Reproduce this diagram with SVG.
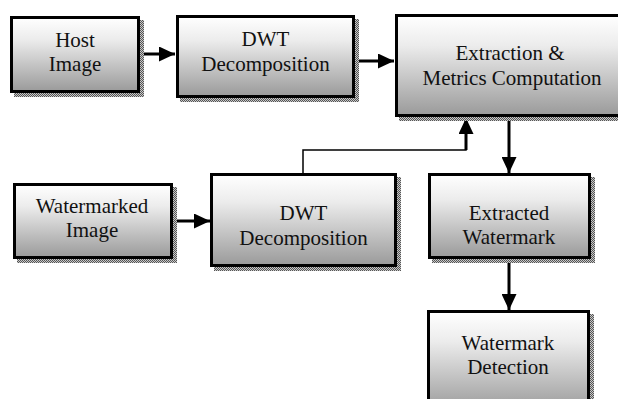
<svg xmlns="http://www.w3.org/2000/svg" width="618" height="399" viewBox="0 0 618 399">
<defs>
<linearGradient id="g" x1="0" y1="0" x2="0" y2="1">
<stop offset="0" stop-color="#ffffff"/>
<stop offset="0.3" stop-color="#ececec"/>
<stop offset="1" stop-color="#9a9a9a"/>
</linearGradient>
<pattern id="dots" width="2" height="2" patternUnits="userSpaceOnUse">
<rect width="2" height="2" fill="#c8c8c8"/>
<rect width="1" height="1" fill="#555"/>
<rect x="1" y="1" width="1" height="1" fill="#555"/>
</pattern>
<marker id="ah2" markerWidth="16" markerHeight="15" refX="16" refY="7.5" orient="auto" markerUnits="userSpaceOnUse">
<path d="M0,0 L16,7.5 L0,15 Z" fill="#000"/>
</marker>
</defs>
<style>
.sh{fill:url(#dots)}
.bx{fill:url(#g);stroke:#000;stroke-width:3}
.t{font-family:'Liberation Serif','Times New Roman',serif;font-size:21px;fill:#111;text-anchor:middle}
.c{fill:none;stroke:#000;stroke-width:3}
.c1{fill:none;stroke:#000;stroke-width:1.5}
</style>
<rect width="618" height="399" fill="#fff"/>
<g id="connectors">
<line class="c" x1="141" y1="54" x2="175" y2="54" marker-end="url(#ah2)"/>
<line class="c" x1="356" y1="61" x2="394" y2="61" marker-end="url(#ah2)"/>
<line class="c" x1="174" y1="221" x2="210" y2="221" marker-end="url(#ah2)"/>
<polyline class="c1" points="303,173 303,150 466,150 466,135"/>
<line class="c" x1="466" y1="150" x2="466" y2="118" marker-end="url(#ah2)"/>
<line class="c" x1="509" y1="118" x2="509" y2="173" marker-end="url(#ah2)"/>
<line class="c" x1="509" y1="259" x2="509" y2="310" marker-end="url(#ah2)"/>
</g>
<g id="host">
<rect class="sh" x="14" y="20" width="130" height="77"/>
<rect class="bx" x="11.5" y="17.5" width="127" height="74"/>
<text class="t" x="75" y="47">Host</text>
<text class="t" x="75" y="71">Image</text>
</g>
<g id="dwt1">
<rect class="sh" x="180" y="19" width="179" height="83"/>
<rect class="bx" x="177.5" y="16.5" width="176" height="80"/>
<text class="t" x="265.5" y="46">DWT</text>
<text class="t" x="265.5" y="71">Decomposition</text>
</g>
<g id="extraction">
<rect class="sh" x="399" y="18" width="230" height="103"/>
<rect class="bx" x="396.5" y="15.5" width="230" height="100"/>
<text class="t" x="510" y="60">Extraction &amp;</text>
<text class="t" x="512" y="85">Metrics Computation</text>
</g>
<g id="watermarked">
<rect class="sh" x="17" y="187" width="160" height="76"/>
<rect class="bx" x="14.5" y="184.5" width="157" height="73"/>
<text class="t" x="92" y="213">Watermarked</text>
<text class="t" x="92" y="237">Image</text>
</g>
<g id="dwt2">
<rect class="sh" x="214" y="177" width="187" height="94"/>
<rect class="bx" x="211.5" y="174.5" width="184" height="91"/>
<text class="t" x="303.5" y="220">DWT</text>
<text class="t" x="303.5" y="245">Decomposition</text>
</g>
<g id="extracted">
<rect class="sh" x="432" y="177" width="163" height="86"/>
<rect class="bx" x="429.5" y="174.5" width="160" height="83"/>
<text class="t" x="509" y="220">Extracted</text>
<text class="t" x="509" y="244">Watermark</text>
</g>
<g id="detection">
<rect class="sh" x="431" y="314" width="163" height="100"/>
<rect class="bx" x="428.5" y="311.5" width="160" height="100"/>
<text class="t" x="508" y="350">Watermark</text>
<text class="t" x="508" y="374">Detection</text>
</g>
</svg>
